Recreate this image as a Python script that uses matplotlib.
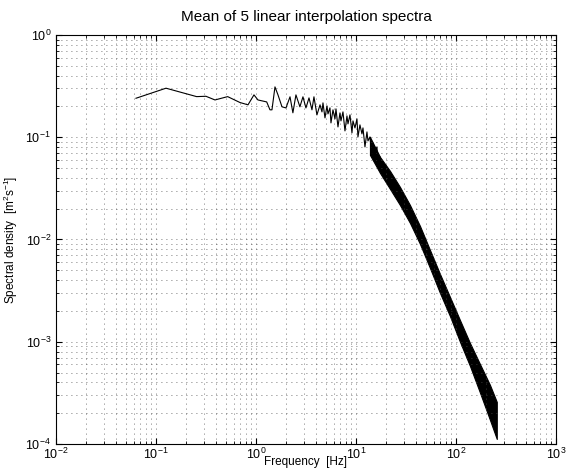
import numpy as np
import matplotlib
matplotlib.use('Agg')
import matplotlib.pyplot as plt

# low/mid-frequency part of the mean spectrum (single noisy trace)
freq_line = [0.0631, 0.126, 0.255, 0.316, 0.389, 0.521, 0.692, 0.832, 0.955, 1.047,
             1.28, 1.38, 1.445, 1.549, 1.66, 1.82, 1.995, 2.19, 2.34, 2.51,
             2.75, 2.95, 3.16, 3.39, 3.63, 3.80, 4.07, 4.37,
             4.571, 4.677, 4.898, 5.129, 5.248, 5.495, 5.623, 5.888, 6.166, 6.310,
             6.607, 6.918, 7.079, 7.413, 7.762, 8.128, 8.318, 8.710, 9.120, 9.333,
             9.772, 10.23, 10.47, 10.96, 11.48, 11.75, 12.30, 12.88, 13.18, 13.80,
             14.45, 14.79, 15.49, 16.22, 16.60, 17.38]
dens_line = [0.240, 0.301, 0.249, 0.251, 0.231, 0.249, 0.218, 0.207, 0.259, 0.231,
             0.221, 0.185, 0.185, 0.310, 0.259, 0.198, 0.193, 0.248, 0.173, 0.259,
             0.198, 0.248, 0.193, 0.242, 0.185, 0.248, 0.165, 0.207,
             0.1766, 0.2163, 0.1543, 0.2021, 0.1688, 0.1932, 0.1378, 0.1848, 0.1509, 0.1890,
             0.1259, 0.1726, 0.1442, 0.1766, 0.1151, 0.1614, 0.1348, 0.1651, 0.1101, 0.1442,
             0.1231, 0.1509, 0.1005, 0.1318, 0.1076, 0.1231, 0.0803, 0.1125, 0.0919, 0.1005,
             0.0656, 0.0879, 0.0718, 0.0803, 0.0500, 0.0641]

# high-frequency part: envelope of the dense noisy trace
freq_band = [13.80, 17.38, 21.88, 27.54, 34.67, 43.65, 54.95, 69.18, 87.10,
             109.6, 138.0, 173.8, 218.8, 256.0]
band_hi = [0.1005, 0.0641, 0.0468, 0.0326, 0.0217, 0.01355, 0.00789, 0.00460, 0.00274,
           0.00163, 0.000972, 0.000605, 0.000378, 0.000258]
band_lo = [0.0670, 0.0447, 0.0312, 0.0217, 0.0145, 0.00904, 0.00526, 0.00300, 0.00178,
           0.00100, 0.000580, 0.000318, 0.000172, 0.000112]

plt.rcParams['font.family'] = ['Liberation Sans', 'DejaVu Sans']
plt.rcParams['mathtext.fontset'] = 'custom'
plt.rcParams['mathtext.rm'] = 'Liberation Sans'
plt.rcParams['mathtext.it'] = 'Liberation Sans:italic'

fig = plt.figure(figsize=(5.76, 4.73), dpi=100)
ax = fig.add_axes([0.0972, 0.0613, 0.868, 0.865])

ax.plot(freq_line, dens_line, color='k', lw=0.8)
ax.fill_between(freq_band, band_lo, band_hi, color='k', lw=0.8, edgecolor='k')

ax.set_xscale('log')
ax.set_yscale('log')
ax.set_xlim(1e-2, 1e3)
ax.set_ylim(1e-4, 1e0)

# matlab-like sparse dotted grid
ax.grid(True, which='both', linestyle=(0, (1, 5)), color='0.3', lw=0.6)
ax.tick_params(which='both', direction='in', top=True, right=True, labelsize=9)
ax.tick_params(axis='x', which='major', pad=2)
ax.tick_params(which='major', length=4)
ax.tick_params(which='minor', length=2)
for s in ax.spines.values():
    s.set_linewidth(0.8)

ax.set_title('Mean of 5 linear interpolation spectra', fontsize=11, pad=10)
ax.set_xlabel('Frequency  [Hz]', fontsize=8.5, va='top')
ax.xaxis.set_label_coords(0.5, -0.029)
ax.set_ylabel('Spectral density  [m$^2$s$^{-1}$]', fontsize=8.5, labelpad=4)

fig.savefig('out.png', dpi=100)
